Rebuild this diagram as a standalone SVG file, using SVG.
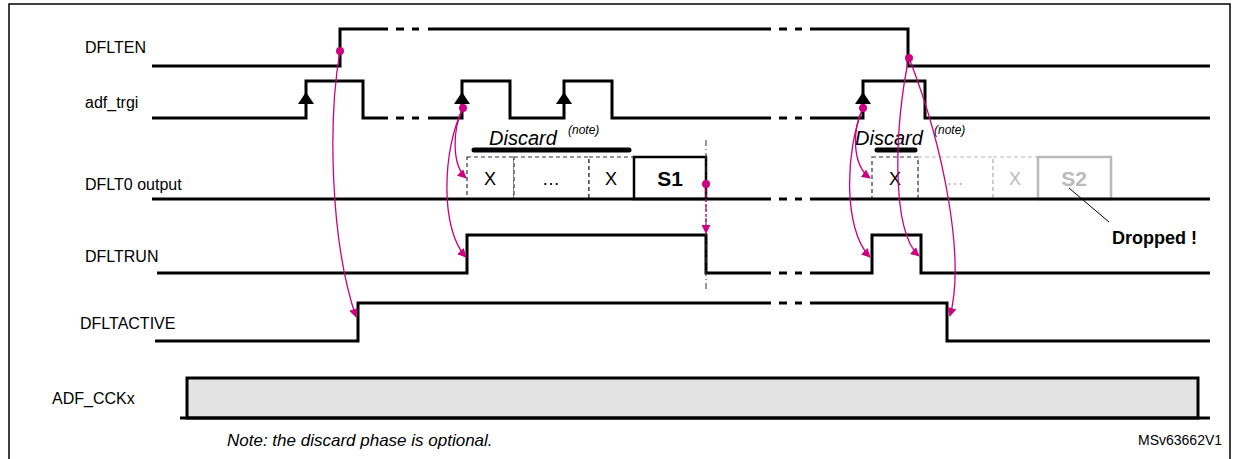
<svg xmlns="http://www.w3.org/2000/svg" width="1241" height="459" viewBox="0 0 1241 459">
<defs>
<style>
.sig{fill:none;stroke:#000;stroke-width:3;stroke-linejoin:miter}
.lbl{font-family:"Liberation Sans",Arial,sans-serif;font-size:16px;fill:#000}
.mag{fill:none;stroke:#cc0080;stroke-width:1.3}
.dash{fill:#fff;stroke:#333;stroke-width:1.2;stroke-dasharray:4 3}
.gdash{fill:#fff;stroke:#bbb;stroke-width:1.2;stroke-dasharray:4 3}
</style>
<marker id="ah" viewBox="0 0 10 10" refX="9" refY="5" markerWidth="9" markerHeight="9" orient="auto" markerUnits="userSpaceOnUse"><path d="M0,0L10,5L0,10z" fill="#cc0080"/></marker>
<path id="up" d="M-8,0L0,-12L8,0z" fill="#000"/>
</defs>
<rect x="9" y="4" width="1221" height="470" fill="none" stroke="#000" stroke-width="1.5"/>
<g id="labels" class="lbl">
<text x="85" y="53">DFLTEN</text>
<text x="85" y="108">adf_trgi</text>
<text x="85" y="190">DFLT0 output</text>
<text x="85" y="262">DFLTRUN</text>
<text x="80" y="329">DFLTACTIVE</text>
<text x="52" y="404">ADF_CCKx</text>
<text x="227" y="446" font-style="italic" font-size="17">Note: the discard phase is optional.</text>
<text x="1138" y="445" font-size="14">MSv63662V1</text>
</g>
<g id="DFLTEN" class="sig">
<path d="M152,66H340V29H388M396,29H404M412,29H419M428,29H771M779,29H787M795,29H802M810,29H908V66H1210"/>
</g>
<g id="adf_trgi">
<path class="sig" d="M152,118H306V81H363V118H388M396,118H404M412,118H419M428,118H462V81H510V118H564V81H612V118H771M779,118H787M795,118H802M810,118H863V81H925V118H1210"/>
<use href="#up" x="306" y="104"/><use href="#up" x="462" y="104"/><use href="#up" x="564" y="104"/><use href="#up" x="863" y="104"/>
</g>
<g id="DFLT0">
<rect class="dash" x="467" y="157" width="47" height="42"/>
<rect class="dash" x="514" y="157" width="75" height="42"/>
<rect class="dash" x="589" y="157" width="45" height="42"/>
<rect x="634" y="157" width="72" height="42" fill="#fff" stroke="#000" stroke-width="2.5"/>
<rect class="gdash" x="918" y="157" width="75" height="42"/>
<rect class="gdash" x="993" y="157" width="45" height="42"/>
<rect class="dash" x="872" y="157" width="46" height="42"/>
<rect x="1038" y="157" width="73" height="42" fill="#fff" stroke="#bbb" stroke-width="2.5"/>
<path class="sig" d="M152,199H771M779,199H787M795,199H802M810,199H1210"/>
<g class="lbl">
<text x="490" y="185" text-anchor="middle" font-size="18">X</text>
<text x="551" y="185" text-anchor="middle" font-size="18">…</text>
<text x="611" y="185" text-anchor="middle" font-size="18">X</text>
<text x="670" y="186" text-anchor="middle" font-weight="bold" font-size="21">S1</text>
<text x="895" y="185" text-anchor="middle" font-size="18">X</text>
<text x="955" y="185" text-anchor="middle" fill="#bbb" font-size="18">…</text>
<text x="1015" y="185" text-anchor="middle" fill="#bbb" font-size="18">X</text>
<text x="1074" y="186" text-anchor="middle" font-weight="bold" font-size="21" fill="#bbb">S2</text>
<text x="489" y="145" font-style="italic" font-size="20">Discard</text>
<text x="568" y="134" font-style="italic" font-size="12">(note)</text>
<text x="855" y="145" font-style="italic" font-size="20">Discard</text>
<text x="934" y="134" font-style="italic" font-size="12">(note)</text>
<text x="1112" y="244" font-weight="bold" font-size="18">Dropped !</text>
</g>
<line x1="474" y1="150" x2="629" y2="150" stroke="#000" stroke-width="5" stroke-linecap="round"/>
<line x1="877" y1="150" x2="915" y2="150" stroke="#000" stroke-width="5" stroke-linecap="round"/>
<line x1="1069" y1="188" x2="1109" y2="222" stroke="#000" stroke-width="1"/>
</g>
<g id="DFLTRUN">
<path class="sig" d="M157,273H467V235H706V273H771M779,273H787M795,273H802M810,273H872V235H921V273H1210"/>
</g>
<g id="DFLTACTIVE">
<path class="sig" d="M155,341H358V303H771M779,303H787M795,303H802M810,303H947V341H1210"/>
</g>
<g id="ADF_CCKx">
<rect x="187" y="378" width="1011" height="40" fill="#e3e3e3" stroke="#000" stroke-width="3"/>
<line x1="180" y1="418" x2="1210" y2="418" stroke="#000" stroke-width="3"/>
</g>
<g id="connectors">
<line x1="706" y1="140" x2="706" y2="290" stroke="#333" stroke-width="1" stroke-dasharray="6 3 1 3"/>
<g fill="#cc0080"><circle cx="340" cy="51" r="4"/><circle cx="463" cy="108" r="4"/><circle cx="706" cy="184" r="4"/><circle cx="863" cy="108" r="4"/><circle cx="909" cy="58" r="4"/></g>
<path class="mag" marker-end="url(#ah)" d="M340,51C328,120 330,240 356,317"/>
<path class="mag" marker-end="url(#ah)" d="M463,108C452,130 452,165 466,178"/>
<path class="mag" marker-end="url(#ah)" d="M463,108C442,150 440,230 466,257"/>
<path class="mag" marker-end="url(#ah)" stroke-dasharray="3 2" d="M706,184V233"/>
<path class="mag" marker-end="url(#ah)" d="M863,108C852,130 852,165 870,178"/>
<path class="mag" marker-end="url(#ah)" d="M863,108C845,150 843,230 870,257"/>
<path class="mag" marker-end="url(#ah)" d="M909,58C895,120 890,230 919,256"/>
<path class="mag" marker-end="url(#ah)" d="M909,58C945,150 965,260 950,316"/>
</g>
</svg>
